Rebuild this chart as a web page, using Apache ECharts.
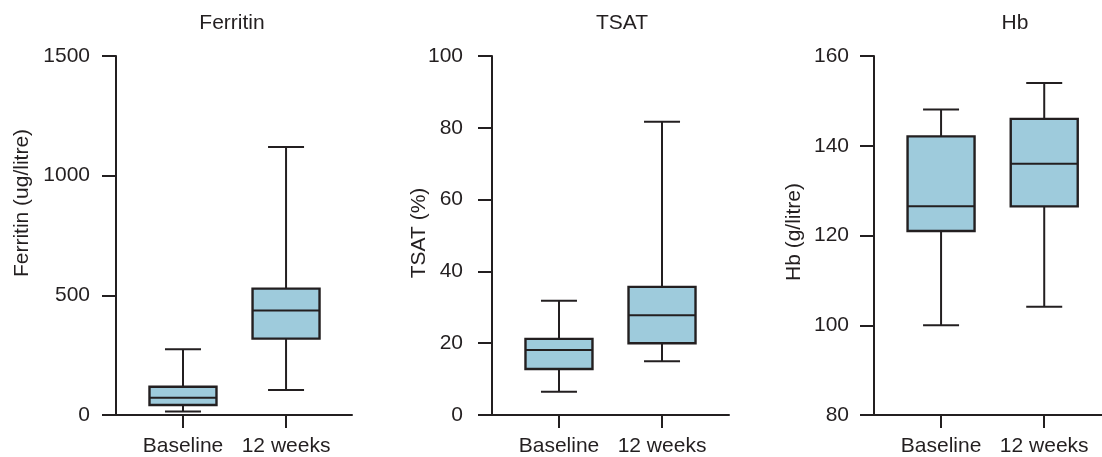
<!DOCTYPE html>
<html>
<head>
<meta charset="utf-8">
<script src="https://cdn.jsdelivr.net/npm/echarts@6/dist/echarts.min.js"></script>
<style>
html,body{margin:0;padding:0;background:#fff;}
#chart{width:1102px;height:457px;}
</style>
</head>
<body>
<div id="chart"></div>
<script>
// ---- data ----
const categories = ['Baseline', '12 weeks'];
const panelTitles = ['Ferritin', 'TSAT', 'Hb'];
const yAxisNames = ['Ferritin (ug/litre)', 'TSAT (%)', 'Hb (g/litre)'];
// [min, Q1, median, Q3, max]
const ferritinBaseline = [15, 42, 72, 118, 275];
const ferritin12w = [104, 319, 437, 528, 1120];
const tsatBaseline = [6.5, 12.8, 18.1, 21.2, 31.8];
const tsat12w = [15, 20, 27.8, 35.7, 81.7];
const hbBaseline = [100, 121, 126.5, 142.1, 148.1];
const hb12w = [104.1, 126.5, 136, 146, 154];
const ferritinTicks = [0, 500, 1000, 1500];
const tsatTicks = [0, 20, 40, 60, 80, 100];
const hbTicks = [80, 100, 120, 140, 160];

const INK = '#231f20';
const FILL = '#9ecbdc';
const FONT = "'Liberation Sans', Arial, Helvetica, sans-serif";

function seriesData(a, b) {
  return [[1].concat(a), [2].concat(b)];
}

function renderBox(params, api) {
  const x = api.value(0);
  const mn = api.coord([x, api.value(1)]);
  const q1 = api.coord([x, api.value(2)]);
  const md = api.coord([x, api.value(3)]);
  const q3 = api.coord([x, api.value(4)]);
  const mx = api.coord([x, api.value(5)]);
  const cx = mn[0];
  const half = 33.5, cap = 18;
  const ls = {stroke: INK, lineWidth: 2};
  return {
    type: 'group',
    children: [
      {type: 'line', shape: {x1: cx, y1: mx[1], x2: cx, y2: q3[1]}, style: ls},
      {type: 'line', shape: {x1: cx, y1: q1[1], x2: cx, y2: mn[1]}, style: ls},
      {type: 'line', shape: {x1: cx - cap, y1: mx[1], x2: cx + cap, y2: mx[1]}, style: ls},
      {type: 'line', shape: {x1: cx - cap, y1: mn[1], x2: cx + cap, y2: mn[1]}, style: ls},
      {type: 'rect', shape: {x: cx - half, y: q3[1], width: half * 2, height: q1[1] - q3[1]},
        style: {fill: FILL, stroke: INK, lineWidth: 2.4}},
      {type: 'line', shape: {x1: cx - half, y1: md[1], x2: cx + half, y2: md[1]}, style: {stroke: INK, lineWidth: 2}}
    ]
  };
}

const grids = [
  {left: 116, width: 236, top: 56, height: 359},
  {left: 492, width: 237, top: 56, height: 359},
  {left: 874, width: 228, top: 56, height: 359}
];
const xMax = [2.64, 2.65, 2.56];
const yRanges = [
  {min: ferritinTicks[0], max: ferritinTicks[ferritinTicks.length - 1], interval: 500, margin: 26},
  {min: tsatTicks[0], max: tsatTicks[tsatTicks.length - 1], interval: 20, margin: 29},
  {min: hbTicks[0], max: hbTicks[hbTicks.length - 1], interval: 20, margin: 25}
];
const datasets = [
  seriesData(ferritinBaseline, ferritin12w),
  seriesData(tsatBaseline, tsat12w),
  seriesData(hbBaseline, hb12w)
];

const xAxes = grids.map((g, i) => ({
  type: 'value', gridIndex: i, min: 0.35, max: xMax[i],
  axisLine: {show: true, onZero: false, lineStyle: {color: INK, width: 2}},
  axisTick: {show: true, length: 13, customValues: [1, 2], lineStyle: {color: INK, width: 2}},
  axisLabel: {show: true, customValues: [1, 2], margin: 21, color: INK, fontSize: 21, fontFamily: FONT,
    formatter: v => categories[Math.round(v) - 1] || ''},
  splitLine: {show: false}
}));
const yAxes = grids.map((g, i) => ({
  type: 'value', gridIndex: i, min: yRanges[i].min, max: yRanges[i].max, interval: yRanges[i].interval,
  axisLine: {show: true, lineStyle: {color: INK, width: 2}},
  axisTick: {show: true, length: 14, lineStyle: {color: INK, width: 2}},
  axisLabel: {margin: yRanges[i].margin, color: INK, fontSize: 21, fontFamily: FONT, formatter: v => String(v)},
  splitLine: {show: false}
}));
const series = datasets.map((d, i) => ({
  type: 'custom', xAxisIndex: i, yAxisIndex: i, data: d,
  encode: {x: 0, y: [1, 2, 3, 4, 5]},
  renderItem: renderBox, silent: true, clip: false
}));

const titlePos = [[232, 23], [622, 23], [1015, 23]];
const namePos = [[22, 203], [419, 233], [794, 232]];
const graphics = [];
panelTitles.forEach((t, i) => graphics.push({
  type: 'text', x: titlePos[i][0], y: titlePos[i][1],
  style: {text: t, textAlign: 'center', textVerticalAlign: 'middle', fill: INK, font: '21px ' + FONT}
}));
yAxisNames.forEach((t, i) => graphics.push({
  type: 'text', x: namePos[i][0], y: namePos[i][1], rotation: Math.PI / 2,
  style: {text: t, textAlign: 'center', textVerticalAlign: 'middle', fill: INK, font: '21px ' + FONT}
}));

const chart = echarts.init(document.getElementById('chart'), null, {renderer: 'canvas'});
chart.setOption({
  animation: false,
  backgroundColor: '#ffffff',
  grid: grids,
  xAxis: xAxes,
  yAxis: yAxes,
  series: series,
  graphic: graphics
});
</script>
</body>
</html>
